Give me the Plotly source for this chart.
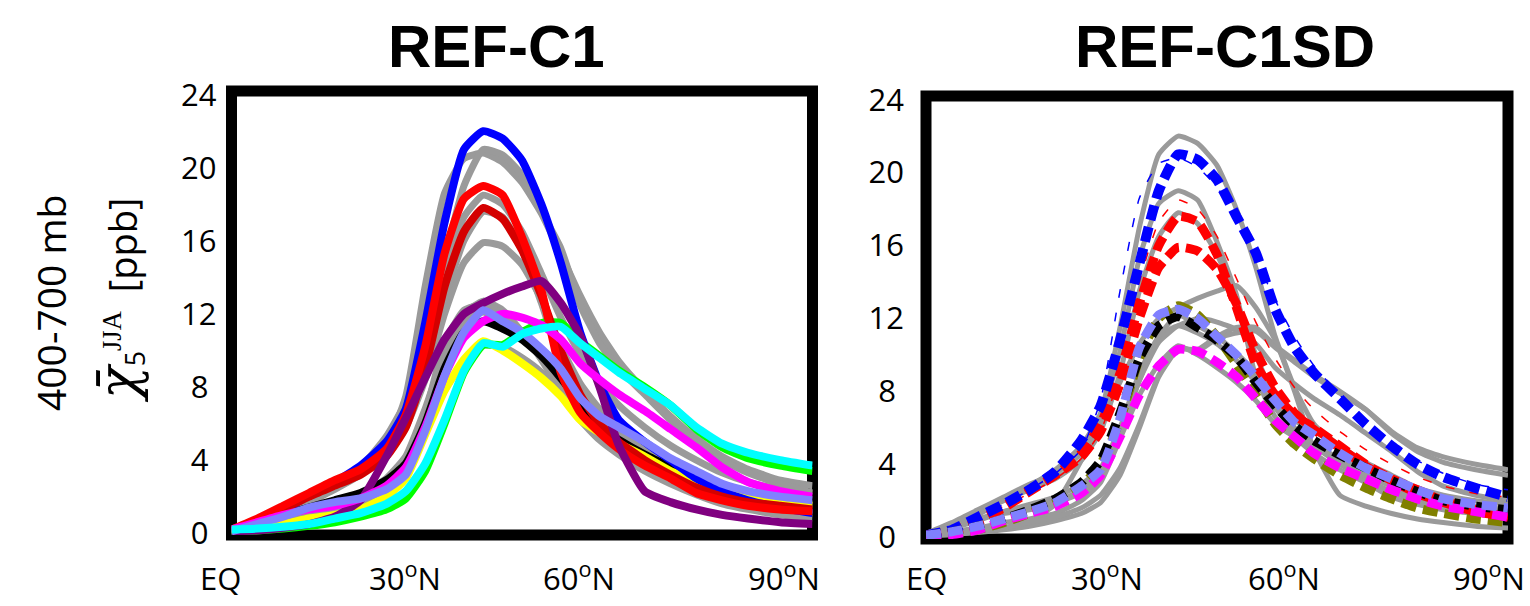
import plotly.graph_objects as go

# Latitude grid (degrees north) shared by every zonal-mean profile
LAT = [0, 4, 8, 12, 16, 20, 24, 27, 30, 33, 36, 39, 42, 45, 48, 51, 54, 57, 60, 64, 68, 72, 76, 80, 85, 90]

# REF-C1 (free-running) model profiles, ppb
c1_blue = [0.2, 0.6, 1.2, 2.1, 2.8, 3.7, 5.0, 6.8, 11.5, 17.0, 21.0, 22.0, 21.6, 20.4, 18.0, 14.8, 11.0, 8.2, 6.2, 5.0, 4.0, 3.0, 2.3, 1.8, 1.4, 1.1]
c1_red = [0.2, 0.8, 1.5, 2.2, 2.9, 3.5, 4.6, 6.5, 10.2, 15.3, 18.3, 19.0, 18.5, 16.2, 13.3, 8.8, 6.6, 5.5, 4.6, 3.7, 3.0, 2.2, 1.8, 1.5, 1.3, 1.2]
c1_darkred = [0.2, 0.7, 1.3, 2.0, 2.6, 3.2, 4.2, 5.8, 9.0, 13.5, 16.5, 17.8, 17.2, 15.5, 13.0, 10.0, 7.6, 6.0, 5.0, 4.0, 3.2, 2.5, 2.0, 1.7, 1.5, 1.3]
c1_purple = [0.1, 0.15, 0.3, 0.5, 0.9, 1.8, 4.2, 6.3, 8.5, 10.6, 12.0, 12.6, 13.1, 13.5, 13.8, 12.6, 10.8, 8.0, 4.8, 2.3, 1.7, 1.3, 1.0, 0.8, 0.6, 0.5]
c1_green = [0.1, 0.15, 0.25, 0.4, 0.6, 0.9, 1.3, 1.9, 3.4, 6.0, 8.8, 10.3, 10.3, 11.0, 11.5, 11.5, 10.5, 9.7, 8.9, 8.0, 7.0, 5.7, 4.7, 4.1, 3.7, 3.4]
c1_cyan = [0.2, 0.25, 0.35, 0.5, 0.8, 1.1, 1.6, 2.3, 3.8, 6.2, 8.9, 10.4, 10.2, 10.9, 11.2, 11.3, 10.4, 9.6, 8.8, 7.9, 7.0, 5.8, 4.9, 4.4, 4.0, 3.7]
c1_magenta = [0.2, 0.6, 1.0, 1.3, 1.5, 1.9, 2.6, 3.6, 5.8, 8.6, 10.7, 11.6, 12.0, 11.8, 11.4, 10.6, 9.3, 8.4, 7.6, 6.7, 5.7, 4.7, 3.6, 2.8, 2.3, 2.0]
c1_lightpurple = [0.1, 0.5, 0.9, 1.4, 1.7, 1.9, 2.4, 3.2, 5.6, 8.6, 11.0, 12.2, 11.6, 11.0, 10.1, 9.0, 7.4, 6.4, 5.8, 5.0, 4.1, 3.4, 2.7, 2.3, 2.0, 1.8]
c1_yellow = [0.1, 0.3, 0.5, 0.8, 1.0, 1.3, 2.0, 3.0, 5.4, 7.8, 9.5, 10.5, 10.0, 9.3, 8.5, 7.5, 6.2, 5.5, 4.9, 4.2, 3.4, 2.8, 2.2, 1.9, 1.7, 1.5]
c1_black = [0.2, 0.6, 1.0, 1.4, 1.8, 2.2, 2.9, 3.8, 6.0, 9.0, 11.0, 11.6, 11.2, 10.6, 9.7, 8.5, 7.1, 5.8, 5.1, 4.3, 3.6, 2.9, 2.1, 1.8, 1.5, 1.4]

# REF-C1SD (specified-dynamics) model profiles, ppb
sd_blue = [0.1, 0.4, 1.1, 1.8, 2.6, 3.6, 5.3, 7.2, 10.8, 15.0, 19.0, 21.0, 20.7, 19.6, 17.6, 15.6, 12.5, 10.4, 9.0, 7.6, 6.2, 5.0, 4.0, 3.3, 2.7, 2.2]
sd_blue_thin = [0.2, 0.5, 1.1, 1.8, 2.6, 3.5, 4.8, 7.5, 13.5, 18.6, 20.5, 20.8, 20.3, 19.2, 17.5, 15.3, 13.0, 11.0, 9.4, 7.8, 6.4, 5.2, 4.2, 3.5, 2.9, 2.6]
sd_red = [0.1, 0.3, 0.8, 1.6, 2.5, 3.4, 4.6, 6.2, 9.0, 12.8, 16.0, 17.6, 17.3, 15.5, 12.6, 9.5, 7.8, 6.7, 6.0, 5.0, 4.0, 3.2, 2.6, 2.0, 1.5, 1.1]
sd_red2 = [0.1, 0.35, 0.9, 1.7, 2.6, 3.4, 4.4, 5.8, 8.4, 12.0, 14.8, 15.9, 15.7, 14.7, 12.8, 10.2, 8.2, 6.8, 5.9, 4.9, 3.9, 3.1, 2.4, 1.9, 1.4, 1.1]
sd_red_thin = [0.2, 0.5, 1.0, 1.7, 2.4, 3.2, 4.3, 5.8, 9.0, 14.0, 17.3, 18.5, 18.0, 16.5, 14.2, 11.8, 9.8, 8.2, 7.0, 5.8, 4.8, 4.0, 3.3, 2.8, 2.4, 2.2]
sd_olive = [0.1, 0.2, 0.4, 0.8, 1.3, 1.9, 2.8, 4.0, 6.4, 9.8, 12.0, 12.7, 12.2, 11.0, 9.5, 7.8, 6.2, 5.1, 4.3, 3.4, 2.7, 2.1, 1.6, 1.3, 1.0, 0.8]
sd_black = [0.1, 0.3, 0.6, 1.0, 1.5, 2.1, 3.0, 4.2, 6.8, 9.8, 11.6, 12.1, 11.5, 10.8, 9.9, 8.5, 7.2, 6.1, 5.3, 4.5, 3.8, 3.1, 2.5, 2.0, 1.7, 1.5]
sd_lightpurple = [0.1, 0.3, 0.6, 1.0, 1.4, 1.9, 2.8, 3.7, 6.5, 10.4, 12.2, 12.5, 12.0, 11.0, 10.0, 8.8, 7.5, 6.3, 5.6, 4.6, 3.8, 3.2, 2.6, 2.1, 1.8, 1.6]
sd_magenta = [0.1, 0.15, 0.4, 0.9, 1.3, 1.7, 2.4, 3.4, 5.5, 7.8, 9.4, 10.3, 10.2, 9.6, 8.8, 7.6, 6.4, 5.5, 4.6, 3.8, 3.2, 2.6, 2.1, 1.7, 1.4, 1.1]

Y_TICKS = [0, 4, 8, 12, 16, 20, 24]
X_TICK_TEXT = ["EQ", "30<sup>o</sup>N", "60<sup>o</sup>N", "90<sup>o</sup>N"]
PANEL_TITLES = ["REF-C1", "REF-C1SD"]

# ---- styling -------------------------------------------------------------
W, H = 1530, 606
GRAY = "#9a9a9a"
SANS = "Open Sans, Noto Sans, sans-serif"
TICK_FONT = dict(family=SANS, size=31, color="black")
DASH = "15px,7px"
THIN_DASH = "9px,15px"

c1_models = [  # (values, colour) in drawing order
    (c1_green, "#00ff00"),
    (c1_black, "#000000"),
    (c1_yellow, "#ffff00"),
    (c1_blue, "#0000ff"),
    (c1_darkred, "#d40000"),
    (c1_red, "#ff0000"),
    (c1_purple, "#800080"),
    (c1_magenta, "#ff00ff"),
    (c1_lightpurple, "#8080ff"),
    (c1_cyan, "#00ffff"),
]
sd_models = [  # (values, colour, width, dash)
    (sd_olive, "#808000", 9, DASH),
    (sd_red_thin, "#ff0000", 1.5, THIN_DASH),
    (sd_blue_thin, "#0000ff", 1.5, THIN_DASH),
    (sd_red2, "#ff0000", 9, DASH),
    (sd_red, "#ff0000", 9, DASH),
    (sd_blue, "#0000ff", 10, DASH),
    (sd_black, "#000000", 9, DASH),
    (sd_magenta, "#ff00ff", 9, DASH),
    (sd_lightpurple, "#8080ff", 9, DASH),
]


def px_x(p):
    return p / W


def px_y(p):
    return (H - p) / H


def profile(vals, xa, ya, **line):
    return go.Scatter(x=LAT, y=vals, mode="lines", xaxis=xa, yaxis=ya,
                      line=dict(shape="spline", smoothing=0.5, **line), hoverinfo="skip")


fig = go.Figure()

# Left panel: SD runs in grey underneath the coloured free-running models
for vals, *_ in sd_models:
    fig.add_trace(profile(vals, "x", "y", color=GRAY, width=7))
for vals, col in c1_models:
    fig.add_trace(profile(vals, "x", "y", color=col, width=8))

# Right panel: free-running models in grey, SD runs as coloured dashes
for vals, _ in c1_models:
    fig.add_trace(profile(vals, "x2", "y2", color=GRAY, width=5))
for vals, col, w, dash in sd_models:
    fig.add_trace(profile(vals, "x2", "y2", color=col, width=w, dash=dash))

y_ticktext = [f"{v}\u2008" if v < 10 else str(v) for v in Y_TICKS]

panels = {
    "left": dict(x0=231.5, x1=812.5, top=91, bottom=535, xa="xaxis", ya="yaxis",
                 xref="x domain", yref="y domain", standoff=14, ax="x", ay="y"),
    "right": dict(x0=926, x1=1508, top=96, bottom=539, xa="xaxis2", ya="yaxis2",
                  xref="x2 domain", yref="y2 domain", standoff=21, ax="x2", ay="y2"),
}

layout = dict(
    template="none",
    width=W, height=H, autosize=False,
    margin=dict(l=0, r=0, t=0, b=0, pad=0, autoexpand=False),
    paper_bgcolor="white", plot_bgcolor="white",
    showlegend=False,
    shapes=[], annotations=[],
)

for key, p in panels.items():
    layout[p["xa"]] = dict(domain=[px_x(p["x0"]), px_x(p["x1"])], range=[0, 90],
                           showgrid=False, zeroline=False, showline=False, automargin=False,
                           showticklabels=False, ticks="", anchor=p["ay"], fixedrange=True)
    layout[p["ya"]] = dict(domain=[px_y(p["bottom"]), px_y(p["top"])], range=[-0.1, 24.2],
                           showgrid=False, zeroline=False, showline=False, ticks="",
                           automargin=False,
                           tickvals=Y_TICKS, ticktext=y_ticktext, tickfont=TICK_FONT,
                           ticklabelstandoff=p["standoff"], anchor=p["ax"], fixedrange=True)
    layout["shapes"].append(dict(type="rect", xref=p["xref"], yref=p["yref"],
                                 x0=0, x1=1, y0=0, y1=1, layer="below",
                                 line=dict(color="black", width=11)))

# Latitude labels along the bottom of each panel
x_label_px = {
    "left": [221, 405, 579, 784],
    "right": [927, 1107, 1284, 1489],
}
for key, centers in x_label_px.items():
    for txt, cx in zip(X_TICK_TEXT, centers):
        layout["annotations"].append(dict(
            text=txt, x=px_x(cx), y=px_y(601), xref="paper", yref="paper",
            xanchor="center", yanchor="bottom", showarrow=False, font=TICK_FONT))

# Panel titles
for txt, cx in zip(PANEL_TITLES, [496, 1225]):
    layout["annotations"].append(dict(
        text=f"<b>{txt}</b>", x=px_x(cx), y=px_y(46), xref="paper", yref="paper",
        xanchor="center", yanchor="middle", showarrow=False,
        font=dict(family="Liberation Sans, Arial, sans-serif", size=60, color="black")))

# Y-axis title (two rotated lines)
layout["annotations"].append(dict(
    text="400-700 mb", x=px_x(50), y=px_y(303), xref="paper", yref="paper",
    xanchor="center", yanchor="middle", textangle=-90, showarrow=False,
    font=dict(family=SANS, size=39, color="black")))
layout["annotations"].append(dict(
    text=("<span style='font-family:DejaVu Serif;font-size:54px'><i>\u03c7\u0304</i></span>"
          "<sub>5</sub><sup><span style='font-family:Liberation Serif'>JJA</span></sup>"
          "\u2002[ppb]"),
    x=px_x(120), y=px_y(301), xref="paper", yref="paper",
    xanchor="center", yanchor="middle", textangle=-90, showarrow=False,
    font=dict(family=SANS, size=38, color="black")))

fig.update_layout(**layout)
fig.write_html("out.html")
